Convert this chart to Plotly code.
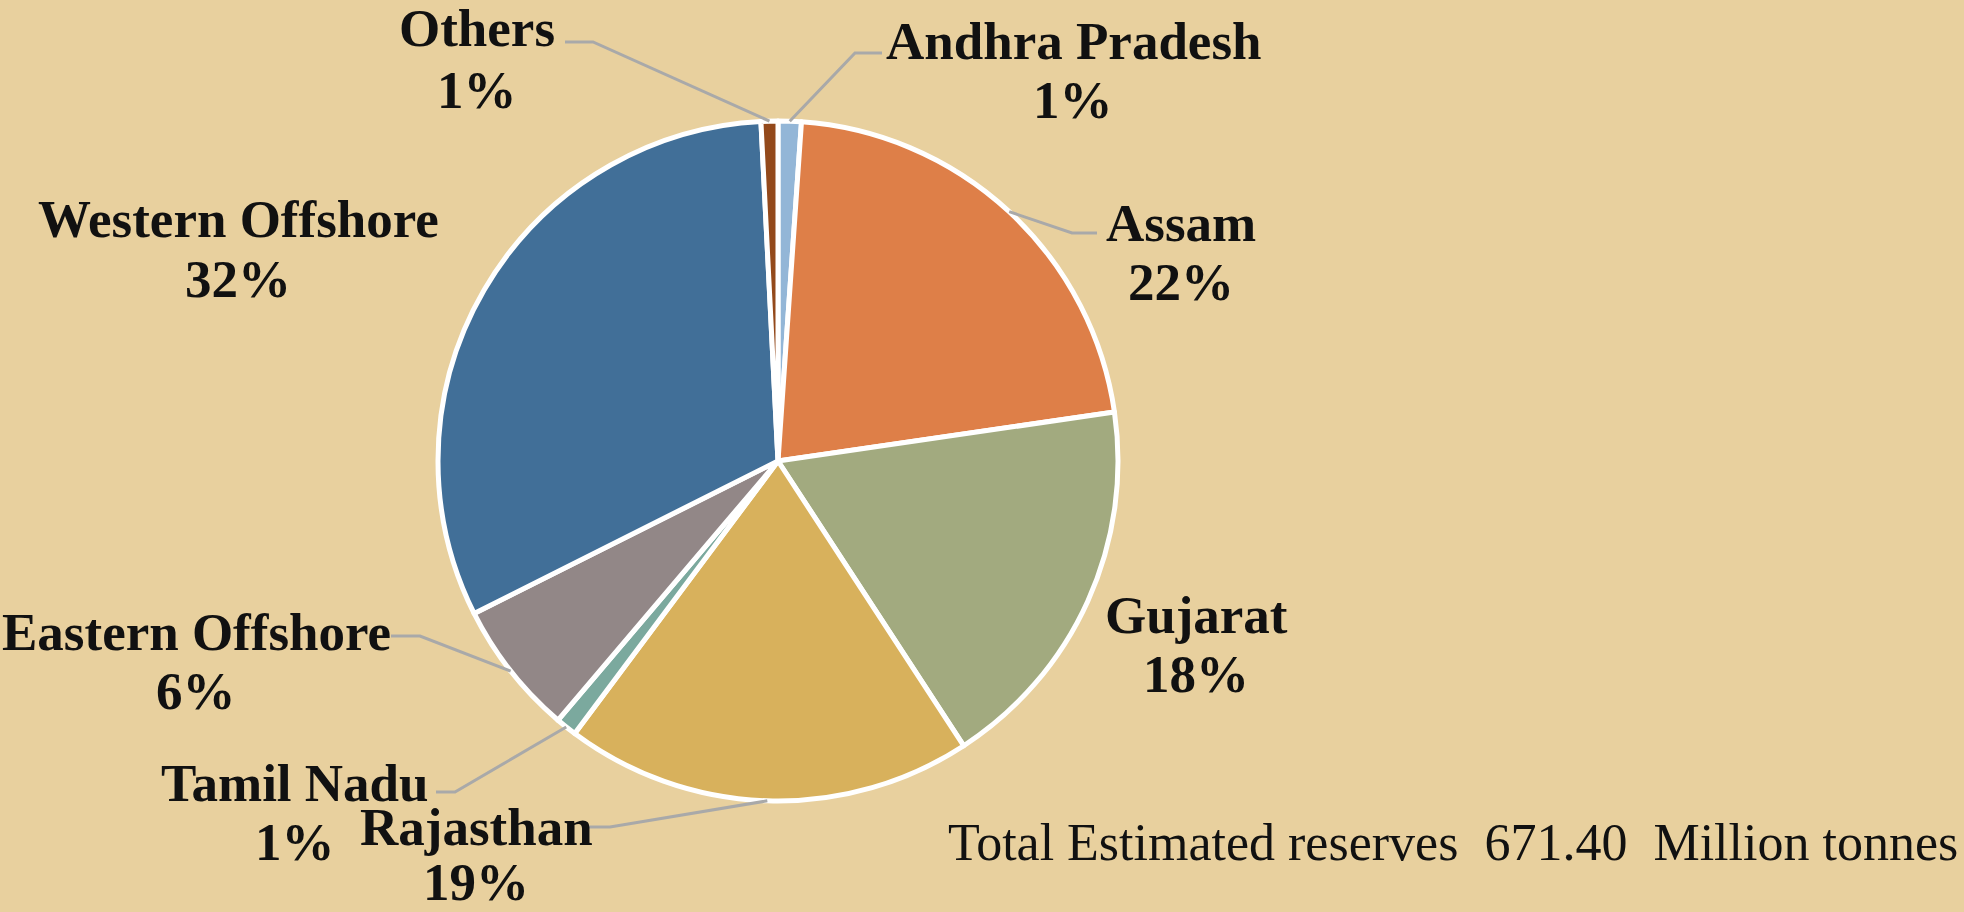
import math
import plotly.graph_objects as go

# ---- data ----
regions = ["Andhra Pradesh", "Assam", "Gujarat", "Rajasthan", "Tamil Nadu",
           "Eastern Offshore", "Western Offshore", "Others"]
shares = [1.1, 21.6, 18.1, 19.4, 1.0, 6.4, 31.6, 0.8]
colors = ["#93B6D7", "#DE7F48", "#A2AA7F", "#D8B15C", "#7BA99E",
          "#928787", "#416F98", "#93491B"]
total_text = "Total Estimated reserves  671.40  Million tonnes"

# ---- layout (pixels) ----
W, H = 1964, 912
CX, CY, R = 778, 461, 340
BG = "#E8D09E"
FONT = "Liberation Serif"

# label centres (px): (x, y_name, y_pct)
label_pos = {
    "Andhra Pradesh": (1073, 41, 100),
    "Assam": (1181, 223, 282),
    "Gujarat": (1196, 615, 674),
    "Rajasthan": (476, 827, 882),
    "Tamil Nadu": (295, 783, 842),
    "Eastern Offshore": (196, 632, 691),
    "Western Offshore": (238, 219, 279),
    "Others": (477, 28, 90),
}
# leader elbow/end points (px)
leaders = {
    "Others": [(593, 42), (565, 42)],
    "Andhra Pradesh": [(855, 53), (882, 53)],
    "Assam": [(1072, 233), (1097, 233)],
    "Rajasthan": [(610, 827), (589, 827)],
    "Tamil Nadu": [(455, 792), (436, 792)],
    "Eastern Offshore": [(420, 636), (391, 636)],
}

fig = go.Figure()
fig.add_trace(go.Pie(
    labels=regions, values=shares, sort=False, direction="clockwise",
    rotation=0, textinfo="none", hoverinfo="label+percent",
    marker=dict(colors=colors, line=dict(color="white", width=5)),
    domain=dict(x=[(CX - R) / W, (CX + R) / W],
                y=[(H - CY - R) / H, (H - CY + R) / H]),
    showlegend=False,
))

tot = sum(shares)
shapes = []
annotations = []
cum = 0.0
for name, v in zip(regions, shares):
    mid = (cum + v / 2) / tot * 2 * math.pi
    cum += v
    ex = CX + R * math.sin(mid)
    ey = CY - R * math.cos(mid)
    pct = round(v / tot * 100)
    lx, ly1, ly2 = label_pos[name]
    for txt, ly in ((name, ly1), (f"{pct}%", ly2)):
        annotations.append(dict(
            x=lx / W, y=1 - ly / H, xref="paper", yref="paper",
            text=f"<b>{txt}</b>", showarrow=False,
            font=dict(family=FONT, size=53, color="#111111"),
            xanchor="center", yanchor="middle", align="center",
        ))
    if name in leaders:
        pts = [(ex, ey)] + leaders[name]
        path = "M " + " L ".join(f"{x / W},{1 - y / H}" for x, y in pts)
        shapes.append(dict(type="path", path=path, xref="paper", yref="paper",
                           line=dict(color="#A9A9A9", width=3)))

annotations.append(dict(
    x=1960 / W, y=1 - 842 / H, xref="paper", yref="paper",
    text=total_text, showarrow=False, xanchor="right", yanchor="middle",
    font=dict(family=FONT, size=52, color="#111111"),
))

fig.update_layout(
    width=W, height=H, margin=dict(l=0, r=0, t=0, b=0),
    paper_bgcolor=BG, plot_bgcolor=BG,
    shapes=shapes, annotations=annotations,
)
fig.write_html(
    "out.html",
    config={"displayModeBar": False},
    post_script="document.body.style.margin='0';document.body.style.background='%s';" % BG,
)
